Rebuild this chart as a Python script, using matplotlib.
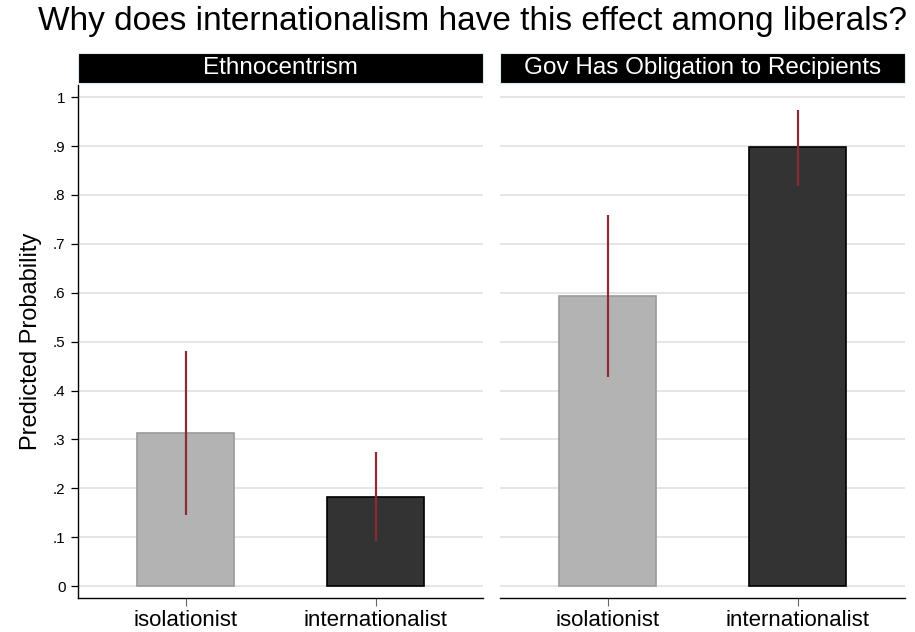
import matplotlib.pyplot as plt
from matplotlib.patches import Rectangle

plt.rcParams['font.family'] = ['Liberation Sans', 'DejaVu Sans']

# data
panels = ["Ethnocentrism", "Gov Has Obligation to Recipients"]
groups = ["isolationist", "internationalist"]
means = [[0.314, 0.182], [0.593, 0.898]]
ci_low = [[0.145, 0.092], [0.427, 0.818]]
ci_high = [[0.480, 0.275], [0.759, 0.973]]
yticks = [0, 0.1, 0.2, 0.3, 0.4, 0.5, 0.6, 0.7, 0.8, 0.9, 1.0]
ytick_labels = ["0", ".1", ".2", ".3", ".4", ".5", ".6", ".7", ".8", ".9", "1"]

bar_colors = ["#b3b3b3", "#333333"]
edge_colors = ["#9a9a9a", "#000000"]
ci_color = "#8c2a36"

fig = plt.figure(figsize=(9.15, 6.32), dpi=100)
fig.text(0.516, 0.966, "Why does internationalism have this effect among liberals?",
         ha="center", va="center", fontsize=24)

lefts = [78 / 915, 500 / 915]
width = 405 / 915
bottom = 1 - 598 / 632
height = (598 - 85) / 632

xs = [1, 2]
for i, name in enumerate(panels):
    ax = fig.add_axes([lefts[i], bottom, width, height])
    ax.set_xlim(0.432, 2.565)
    ax.set_ylim(-0.0245, 1.025)
    ax.set_yticks(yticks)
    ax.grid(axis="y", color="#e3e3e3", linewidth=1.3)
    ax.set_axisbelow(True)

    ax.bar(xs, means[i], width=0.51, color=bar_colors, edgecolor=edge_colors,
           linewidth=1.2, zorder=2)
    ax.vlines(xs, ci_low[i], ci_high[i], color=ci_color, linewidth=1.6, zorder=3)

    ax.set_xticks(xs)
    ax.set_xticklabels(groups, fontsize=16)
    ax.tick_params(axis="x", length=6, color="#666666", pad=3)

    for s in ["top", "right"]:
        ax.spines[s].set_visible(False)
    ax.spines["bottom"].set_linewidth(1.0)
    if i == 0:
        ax.set_yticklabels(ytick_labels, fontsize=11)
        ax.tick_params(axis="y", length=5, width=0.9, pad=4)
        ax.spines["left"].set_linewidth(1.0)
        ax.set_ylabel("Predicted Probability", fontsize=17, labelpad=8)
    else:
        ax.spines["left"].set_visible(False)
        ax.tick_params(axis="y", left=False, labelleft=False)

    # panel header strip
    strip = Rectangle((0, 1.003), 1, 0.059, transform=ax.transAxes,
                      facecolor="black", edgecolor="#dce8ee", linewidth=0.8,
                      clip_on=False)
    ax.add_patch(strip)
    ax.text(0.5, 1.033, name, transform=ax.transAxes, ha="center", va="center",
            color="white", fontsize=17.5)

fig.savefig("out.png", dpi=100)
